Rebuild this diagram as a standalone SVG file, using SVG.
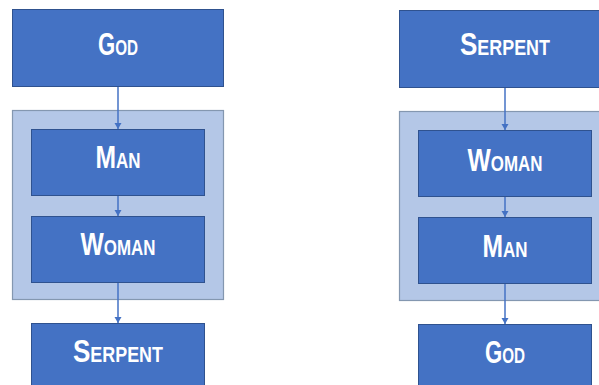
<svg xmlns="http://www.w3.org/2000/svg" width="599" height="385" viewBox="0 0 599 385">
<style>
.box{fill:#4472C4;stroke:#2F528F;stroke-width:1}
.grp{fill:#B4C7E7;stroke:#8497B0;stroke-width:1.2}
.lbl{font-family:"Liberation Sans",Arial,sans-serif;font-weight:bold;font-size:32px;font-variant:small-caps;fill:#ffffff;text-anchor:middle}
.con{stroke:#4472C4;stroke-width:1.5;fill:none;marker-end:url(#ah)}
</style>
<defs>
<marker id="ah" markerWidth="8" markerHeight="8" refX="6" refY="4" orient="auto" markerUnits="userSpaceOnUse">
<path d="M0,0.5 L6,4 L0,7.5 Z" fill="#4472C4"/>
</marker>
</defs>
<rect x="0" y="0" width="599" height="385" fill="#ffffff"/>
<g id="left-group"><rect class="grp" x="12.5" y="110.5" width="211" height="189"/></g>
<g id="right-group"><rect class="grp" x="399.5" y="111.5" width="211" height="189"/></g>
<g id="connectors">
<path class="con" d="M118,86 V129"/>
<path class="con" d="M118,195 V216"/>
<path class="con" d="M118,282 V323"/>
<path class="con" d="M505,87 V130"/>
<path class="con" d="M505,196 V217"/>
<path class="con" d="M505,283 V324"/>
</g>
<g id="l-god"><rect class="box" x="12.5" y="9.5" width="211" height="77"/><text class="lbl" x="118" y="55" textLength="40" lengthAdjust="spacingAndGlyphs">God</text></g>
<g id="l-man"><rect class="box" x="31.5" y="129.5" width="173" height="66"/><text class="lbl" x="118" y="168" textLength="45" lengthAdjust="spacingAndGlyphs">Man</text></g>
<g id="l-woman"><rect class="box" x="31.5" y="216.5" width="173" height="66"/><text class="lbl" x="118" y="255" textLength="75" lengthAdjust="spacingAndGlyphs">Woman</text></g>
<g id="l-serpent"><rect class="box" x="31.5" y="323.5" width="173" height="70"/><text class="lbl" x="118" y="362" textLength="90" lengthAdjust="spacingAndGlyphs">Serpent</text></g>
<g id="r-serpent"><rect class="box" x="399.5" y="10.5" width="211" height="77"/><text class="lbl" x="505" y="55" textLength="90" lengthAdjust="spacingAndGlyphs">Serpent</text></g>
<g id="r-woman"><rect class="box" x="418.5" y="130.5" width="173" height="66"/><text class="lbl" x="505" y="171" textLength="75" lengthAdjust="spacingAndGlyphs">Woman</text></g>
<g id="r-man"><rect class="box" x="418.5" y="217.5" width="173" height="66"/><text class="lbl" x="505" y="257" textLength="45" lengthAdjust="spacingAndGlyphs">Man</text></g>
<g id="r-god"><rect class="box" x="418.5" y="324.5" width="173" height="70"/><text class="lbl" x="505" y="363" textLength="40" lengthAdjust="spacingAndGlyphs">God</text></g>
</svg>
